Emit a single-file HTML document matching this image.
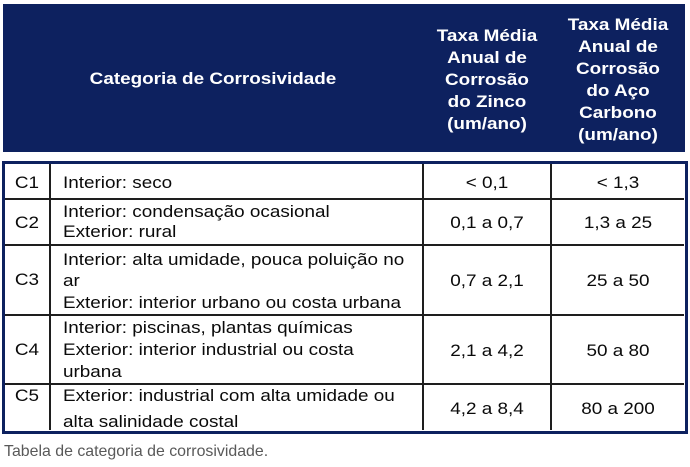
<!DOCTYPE html>
<html>
<head>
<meta charset="utf-8">
<style>
  html,body{margin:0;padding:0;background:#fff;}
  body{width:690px;height:467px;position:relative;overflow:hidden;font-family:"Liberation Sans",Arial,sans-serif;}
  .box{position:absolute;}
  .navy{background:#0d215f;}
  .ln{position:absolute;background:#1e1e1e;}
  .t{position:absolute;white-space:nowrap;font-size:16.3px;line-height:20px;color:#0a0a0a;transform-origin:0 0;}
  .l{transform:scaleX(1.16) translateY(-50%);}
  .c{transform:scaleX(1.16) translate(-50%,-50%);}
  .h{position:absolute;white-space:nowrap;font-size:16.3px;line-height:22px;color:#fff;font-weight:bold;text-align:center;transform-origin:0 0;transform:scaleX(1.16) translateX(-50%);}
</style>
</head>
<body>
  <!-- header -->
  <div class="box navy" style="left:3px;top:4px;width:682px;height:148px;"></div>
  <div class="h" style="left:213px;top:68px;">Categoria de Corrosividade</div>
  <div class="h" style="left:487px;top:25px;">Taxa Média<br>Anual de<br>Corrosão<br>do Zinco<br>(um/ano)</div>
  <div class="h" style="left:618px;top:14px;">Taxa Média<br>Anual de<br>Corrosão<br>do Aço<br>Carbono<br>(um/ano)</div>

  <!-- table border -->
  <div class="box" style="left:2px;top:161px;width:680px;height:267px;border:3px solid #0d215f;"></div>
  <!-- column lines -->
  <div class="ln" style="left:49px;top:164px;width:2px;height:266px;"></div>
  <div class="ln" style="left:422px;top:164px;width:2px;height:266px;"></div>
  <div class="ln" style="left:550px;top:164px;width:2px;height:266px;"></div>
  <!-- row lines -->
  <div class="ln" style="left:5px;top:198px;width:679px;height:2px;"></div>
  <div class="ln" style="left:5px;top:244px;width:679px;height:2px;"></div>
  <div class="ln" style="left:5px;top:314px;width:679px;height:2px;"></div>
  <div class="ln" style="left:5px;top:383px;width:679px;height:2px;"></div>

  <!-- C1 -->
  <div class="t c" style="left:26.5px;top:183px;">C1</div>
  <div class="t l" style="left:63px;top:183px;">Interior: seco</div>
  <div class="t c" style="left:487px;top:183px;">&lt; 0,1</div>
  <div class="t c" style="left:618px;top:183px;">&lt; 1,3</div>

  <!-- C2 -->
  <div class="t c" style="left:26.5px;top:223px;">C2</div>
  <div class="t l" style="left:63px;top:212px;">Interior: condensação ocasional</div>
  <div class="t l" style="left:63px;top:232px;">Exterior: rural</div>
  <div class="t c" style="left:487px;top:223px;">0,1 a 0,7</div>
  <div class="t c" style="left:618px;top:223px;">1,3 a 25</div>

  <!-- C3 -->
  <div class="t c" style="left:26.5px;top:280px;">C3</div>
  <div class="t l" style="left:63px;top:260px;">Interior: alta umidade, pouca poluição no</div>
  <div class="t l" style="left:63px;top:281px;">ar</div>
  <div class="t l" style="left:63px;top:303px;">Exterior: interior urbano ou costa urbana</div>
  <div class="t c" style="left:487px;top:281px;">0,7 a 2,1</div>
  <div class="t c" style="left:618px;top:281px;">25 a 50</div>

  <!-- C4 -->
  <div class="t c" style="left:26.5px;top:350px;">C4</div>
  <div class="t l" style="left:63px;top:328px;">Interior: piscinas, plantas químicas</div>
  <div class="t l" style="left:63px;top:350px;">Exterior: interior industrial ou costa</div>
  <div class="t l" style="left:63px;top:372px;">urbana</div>
  <div class="t c" style="left:487px;top:351px;">2,1 a 4,2</div>
  <div class="t c" style="left:618px;top:351px;">50 a 80</div>

  <!-- C5 -->
  <div class="t c" style="left:26.5px;top:396px;">C5</div>
  <div class="t l" style="left:63px;top:396px;">Exterior: industrial com alta umidade ou</div>
  <div class="t l" style="left:63px;top:422px;">alta salinidade costal</div>
  <div class="t c" style="left:487px;top:409px;">4,2 a 8,4</div>
  <div class="t c" style="left:618px;top:409px;">80 a 200</div>

  <!-- caption -->
  <div style="position:absolute;left:4px;top:442px;font-size:15.9px;line-height:20px;color:#595959;white-space:nowrap;">Tabela de categoria de corrosividade.</div>
</body>
</html>
